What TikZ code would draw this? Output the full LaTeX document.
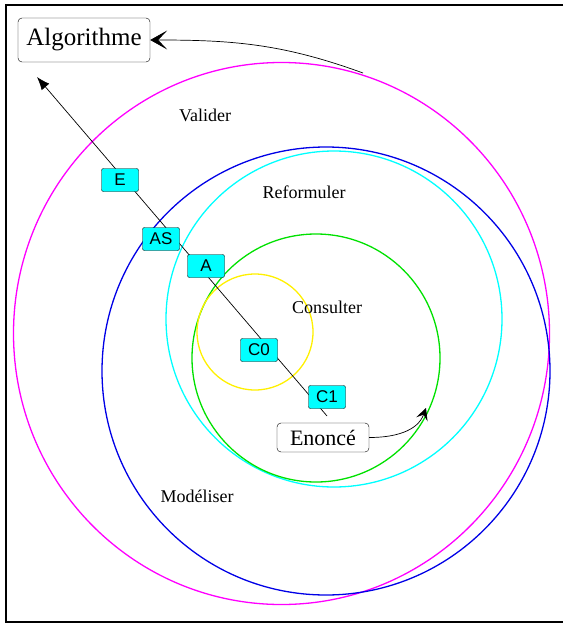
\documentclass[tikz,border=0pt]{standalone}
\usepackage{fontspec}
\setmainfont{Liberation Serif}
\setsansfont{Liberation Sans}
\usetikzlibrary{arrows.meta}
\definecolor{rmagenta}{RGB}{255,0,255}
\definecolor{rblue}{RGB}{0,0,230}
\definecolor{rcyan}{RGB}{0,255,255}
\definecolor{rgreen}{RGB}{0,225,0}
\definecolor{ryellow}{RGB}{255,240,0}

\begin{document}
\begin{tikzpicture}[x=1pt,y=-1pt,
    ring/.style={line width=1.3pt},
    stage/.style={draw,fill=rcyan,rounded corners=2pt,inner sep=0pt,minimum width=37pt,minimum height=23pt,font=\sffamily\fontsize{17}{17}\selectfont},
    doc/.style={draw,fill=white,rounded corners=4pt,inner sep=0pt},
    phase/.style={anchor=base,font=\fontsize{18}{18}\selectfont}]
    \useasboundingbox (0,0) rectangle (563,626);
    \draw [line width=2pt] (563,5) -- (6,5) -- (6,622) -- (563,622);
    % les cercles
    \draw [ring,rmagenta] (281.5,333.5) ellipse (268pt and 271pt);
    \draw [ring,rblue] (326,371) circle (224pt);
    \draw [ring,rcyan] (334,319) circle (168pt);
    \draw [ring,rgreen] (316,358) circle (124pt);
    \draw [ring,ryellow] (255,332) circle (58pt);
    % les phases
    \node [phase] (valider) at (205,121) {Valider};
    \node [phase] (reformuler) at (304,198) {Reformuler};
    \node [phase] (consulter) at (327,313) {Consulter};
    \node [phase] (modeliser) at (197,502) {Modéliser};
    % les documents
    \node [doc,minimum width=132pt,minimum height=44pt,font=\fontsize{25}{25}\selectfont] (algo) at (84,40) {Algorithme};
    \node [doc,minimum width=92pt,minimum height=29pt,font=\fontsize{22}{22}\selectfont] (enonce) at (323,437.5) {Enoncé};
    % la demarche
    \coordinate (tail) at (327,416);
    \coordinate (tip) at (37,77);
    \coordinate (out) at (363,73);
    \coordinate (up) at (426,408);
    \draw [line width=0.7pt,-{Latex[length=13pt,width=10pt]}] (tail) -- (tip);
    \node [stage] (E) at (120,180) {E};
    \node [stage] (AS) at (161,239) {AS};
    \node [stage] (A) at (206,266) {A};
    \node [stage] (C0) at (259,350) {C0};
    \node [stage] (C1) at (327,397) {C1};
    \draw [line width=0.7pt,-{Stealth[length=17pt,width=19pt,inset=9pt]}] (out) to [out=160,in=0] (algo);
    \draw [line width=0.7pt,-{Stealth[length=12pt,width=12pt,inset=5pt]}] (enonce) to [out=0,in=250] (up);
\end{tikzpicture}
\end{document}
